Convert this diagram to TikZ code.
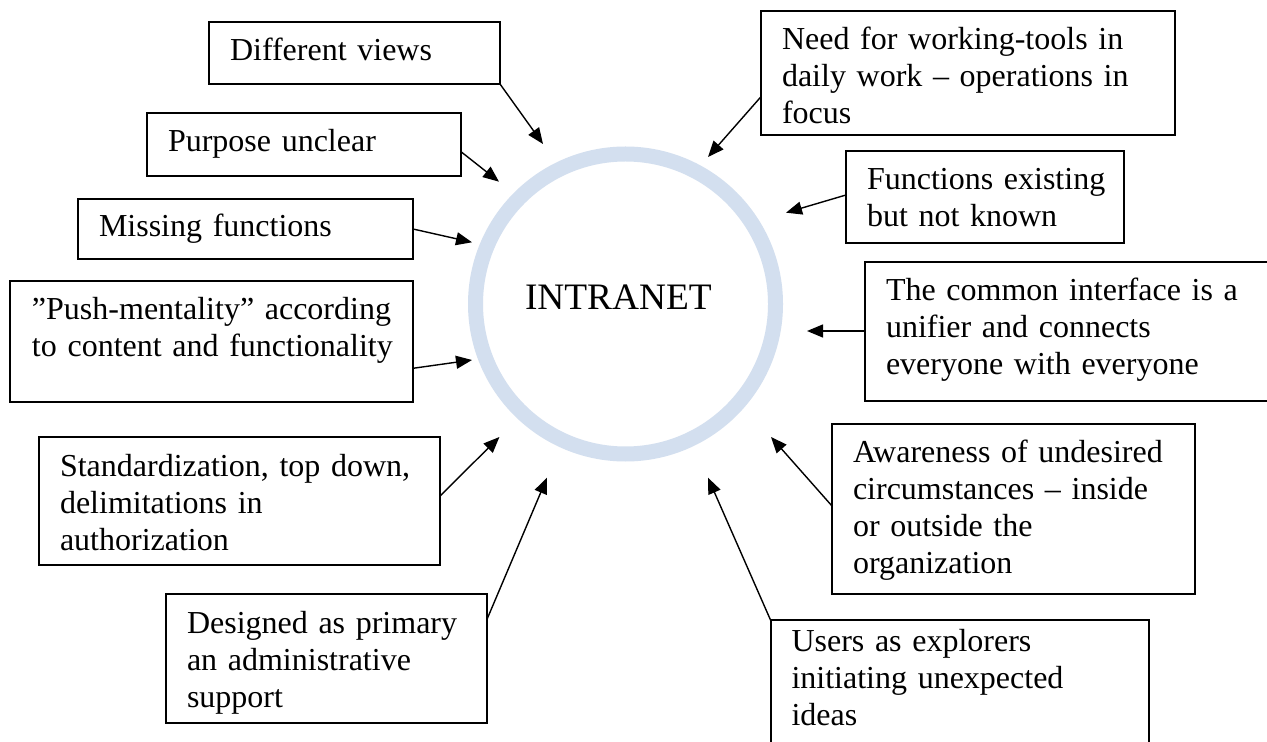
\documentclass[tikz,border=0pt]{standalone}
\usepackage{fontspec}
\setmainfont{Liberation Serif}
\usetikzlibrary{arrows.meta,calc}
\definecolor{ringblue}{RGB}{211,223,239}
\begin{document}
\begin{tikzpicture}[x=0.5pt,y=-0.5pt,
  every node/.style={inner sep=0pt, outer sep=0pt},
  tbox/.style={draw, line width=1pt, anchor=north west},
  ttext/.style={anchor=base west, align=left, text width=215pt,
    font=\fontsize{16}{18.5}\selectfont},
  arr/.style={line width=0.7pt, -{Triangle[length=8pt,width=6.5pt]}}]
\useasboundingbox (0,0) rectangle (1267,742);
\fill[white] (0,0) rectangle (1267,742);
\clip (0,0) rectangle (1267,742);

% central ring
\node[circle, draw=ringblue, line width=7.5pt, minimum size=150pt] (net) at (625.5,304) {};
\node[anchor=base west, font=\fontsize{18.67}{22}\selectfont] (nettext) at ($(net.center)+(-100.5,6)$) {INTRANET};

% boxes on the left
\node[tbox, minimum width=145.5pt, minimum height=31pt]  (dv) at (209,22) {};
\node[tbox, minimum width=157pt,   minimum height=31.5pt](pu) at (147,113) {};
\node[tbox, minimum width=167.5pt, minimum height=30pt]  (mf) at (78,199) {};
\node[tbox, minimum width=201.5pt, minimum height=60.5pt](pm) at (10,281) {};
\node[tbox, minimum width=200.5pt, minimum height=64pt]  (st) at (39,437) {};
\node[tbox, minimum width=160.5pt, minimum height=64.5pt](da) at (166,594) {};

% boxes on the right
\node[tbox, minimum width=207pt,   minimum height=62pt]  (nf) at (761,11) {};
\node[tbox, minimum width=139pt,   minimum height=46pt]  (fe) at (846,151) {};
\node[tbox, minimum width=217.5pt, minimum height=69.5pt](ci) at (865,262) {};
\node[tbox, minimum width=181.5pt, minimum height=85pt]  (aw) at (832,424) {};
\node[tbox, minimum width=189.25pt,minimum height=90pt]  (ue) at (770.5,620) {};

% box texts
\node[ttext] (dvt) at ($(dv.north west)+(21,39)$) {Different views};
\node[ttext] (put) at ($(pu.north west)+(21,39)$) {Purpose unclear};
\node[ttext] (mft) at ($(mf.north west)+(21,38)$) {Missing functions};
\node[ttext] (pmt) at ($(pm.north west)+(22,39)$) {”Push-mentality” according\\to content and functionality};
\node[ttext] (stt) at ($(st.north west)+(21,39)$) {Standardization, top down,\\delimitations in\\authorization};
\node[ttext] (dat) at ($(da.north west)+(21,39)$) {Designed as primary\\an administrative\\support};
\node[ttext] (nft) at ($(nf.north west)+(21,39)$) {Need for working-tools in\\daily work – operations in\\focus};
\node[ttext] (fet) at ($(fe.north west)+(21,39)$) {Functions existing\\but not known};
\node[ttext] (cit) at ($(ci.north west)+(21,39)$) {The common interface is a\\unifier and connects\\everyone with everyone};
\node[ttext] (awt) at ($(aw.north west)+(21,38)$) {Awareness of undesired\\circumstances – inside\\or outside the\\organization};
\node[ttext] (uet) at ($(ue.north west)+(21,31)$) {Users as explorers\\initiating unexpected\\ideas};

% arrow tips around the ring
\coordinate (tdv) at (543,144);
\coordinate (tpu) at (499,181.7);
\coordinate (tmf) at (472,242.3);
\coordinate (tpm) at (472,360);
\coordinate (tst) at (499.4,437);
\coordinate (tda) at (547,477.7);
\coordinate (tnf) at (708,157);
\coordinate (tfe) at (786,212.7);
\coordinate (tci) at (807,331);
\coordinate (taw) at (771,437);
\coordinate (tue) at (708,477.7);

% connectors
\draw[arr] (dv.south east) -- (tdv);
\draw[arr] ($(pu.north east)+(0,38.7)$) -- (tpu);
\draw[arr] (mf.east) -- (tmf);
\draw[arr] ($(pm.north east)+(0,87.3)$) -- (tpm);
\draw[arr] ($(st.north east)+(0,59)$) -- (tst);
\draw[arr] ($(da.north east)+(0,25.3)$) -- (tda);
\draw[arr] ($(nf.north west)+(0,85.7)$) -- (tnf);
\draw[arr] ($(fe.north west)+(0,44)$) -- (tfe);
\draw[arr] ($(ci.north west)+(0,69)$) -- (tci);
\draw[arr] ($(aw.north west)+(0,82)$) -- (taw);
\draw[arr] (ue.north west) -- (tue);
\end{tikzpicture}
\end{document}
